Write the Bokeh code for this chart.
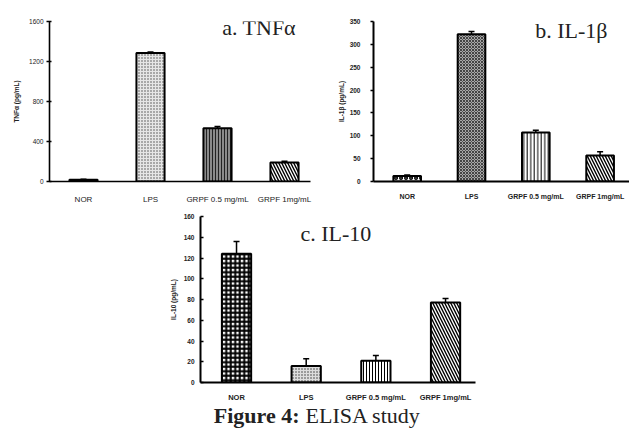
from bokeh.plotting import figure
from bokeh.models import ColumnDataSource, Whisker, TeeHead, FixedTicker, Range1d, Spacer
from bokeh.layouts import column, row
from bokeh.embed import file_html
from bokeh.resources import INLINE
from bokeh.core.properties import value

# ---------------- data ----------------
groups = ["NOR", "LPS", "GRPF 0.5 mg/mL", "GRPF 1mg/mL"]

tnf_mean = [18, 1285, 532, 190]
tnf_err = [4, 10, 18, 12]
tnf_ticks = [0, 400, 800, 1200, 1600]

il1b_mean = [12, 322, 107, 57]
il1b_err = [2, 6, 5, 8]
il1b_ticks = [0, 50, 100, 150, 200, 250, 300, 350]

il10_mean = [124, 16, 21, 77]
il10_err = [12, 7, 5, 4]
il10_ticks = [0, 20, 40, 60, 80, 100, 120, 140, 160]

# ---------------- styles ----------------
style_a = dict(fill=["#222222", "#a8a8a8", "#8a8a8a", "white"],
               hatch=[" ", "+", "|", "\\"],
               hcolor=["#222222", "#e6e6e6", "#222222", "black"],
               hscale=[4, 3, 3, 6], hweight=[1, 1, 1, 1.4])
style_b = dict(fill=["white", "#a8a8a8", "white", "white"],
               hatch=["o", "x", "|", "\\"],
               hcolor=["black", "#444444", "black", "black"],
               hscale=[5, 3, 3.5, 6], hweight=[1.5, 1, 1, 1.4])
style_c = dict(fill=["white", "#9a9a9a", "white", "white"],
               hatch=["+", "+", "|", "\\"],
               hcolor=["black", "#dddddd", "black", "black"],
               hscale=[4.5, 3, 3, 6], hweight=[2.0, 1, 1, 1.4])

FONT = "Liberation Sans"
SERIF = "Liberation Serif"


def panel(means, errs, ticks, ylabel, title, style, w, h, bl, bt, br, bb,
          xstart, xend, barw, tx, ty, xfs, xfw, yfs, yfw, tick_in, tick_out,
          ylab_standoff, tick_standoff, xlab_standoff, axis_w):
    src = ColumnDataSource(dict(
        x=list(range(len(groups))), top=means,
        upper=[m + e for m, e in zip(means, errs)],
        fill=style["fill"], hatch=style["hatch"], hcolor=style["hcolor"],
        hscale=style["hscale"], hweight=style["hweight"]))
    p = figure(width=w, height=h, output_backend="svg", toolbar_location=None,
               x_range=Range1d(xstart, xend), y_range=Range1d(ticks[0], ticks[-1]),
               min_border_left=bl, min_border_top=bt, min_border_right=br, min_border_bottom=bb)
    p.outline_line_color = None
    p.xgrid.grid_line_color = None
    p.ygrid.grid_line_color = None
    p.background_fill_color = "white"
    p.border_fill_color = "white"
    p.vbar(x="x", top="top", bottom=0, width=barw, source=src,
           fill_color="fill", line_color="black", line_width=2,
           hatch_pattern="hatch", hatch_color="hcolor",
           hatch_scale="hscale", hatch_weight="hweight")
    wh = Whisker(source=src, base="x", lower="top", upper="upper",
                 lower_head=None, upper_head=TeeHead(size=6, line_width=1.5, line_color="black"),
                 line_width=1.5, line_color="black", level="overlay")
    p.add_layout(wh)
    p.xaxis.ticker = FixedTicker(ticks=list(range(len(groups))))
    p.xaxis.major_label_overrides = {i: g for i, g in enumerate(groups)}
    p.xaxis.major_tick_line_color = None
    p.xaxis.minor_tick_line_color = None
    p.xaxis.axis_line_width = axis_w
    p.xaxis.major_label_text_font = FONT
    p.xaxis.major_label_text_font_size = xfs
    p.xaxis.major_label_text_font_style = xfw
    p.xaxis.major_label_text_color = "#222222"
    p.xaxis.major_label_standoff = xlab_standoff
    p.yaxis.ticker = FixedTicker(ticks=ticks)
    p.yaxis.minor_tick_line_color = None
    p.yaxis.major_tick_out = tick_out
    p.yaxis.major_tick_in = tick_in
    p.yaxis.major_tick_line_width = 1.5
    p.yaxis.axis_line_width = axis_w
    p.yaxis.major_label_text_font = FONT
    p.yaxis.major_label_text_font_size = yfs
    p.yaxis.major_label_text_font_style = yfw
    p.yaxis.major_label_text_color = "#222222"
    p.yaxis.major_label_standoff = tick_standoff
    p.yaxis.axis_label = ylabel
    p.yaxis.axis_label_text_font = FONT
    p.yaxis.axis_label_text_font_size = "6.5px"
    p.yaxis.axis_label_text_font_style = "bold"
    p.yaxis.axis_label_text_color = "#222222"
    p.yaxis.axis_label_standoff = ylab_standoff
    p.text(x=[tx], y=[ty], text=[title], text_font=value(SERIF),
           text_font_size="22px", text_color="#222222",
           text_baseline="middle", text_align="left")
    return p


# panel a: frame x 49..310, y 21..184
pa = panel(tnf_mean, tnf_err, tnf_ticks, "TNFα (pg/mL)", "a. TNFα", style_a,
           318, 206, 49, 21, 8, 22, -0.5075, 3.388, 0.42, 2.07, 1541,
           "8px", "normal", "6.5px", "normal", 2, 3, 6, 3, 7, 1.6)
# panel b: frame x 373..629, y 15..187
pb = panel(il1b_mean, il1b_err, il1b_ticks, "IL-1β (pg/mL)", "b. IL-1β", style_b,
           311, 206, 55, 15, 0, 19, -0.524, 3.457, 0.43, 1.99, 330,
           "7px", "bold", "6.5px", "bold", 0, 3, 2, 10, 5, 2)
# panel c: frame x 200..475, y 216..391
pc = panel(il10_mean, il10_err, il10_ticks, "IL-10 (pg/mL)", "c. IL-10", style_c,
           320, 198, 40, 10, 5, 13, -0.517, 3.430, 0.42, 0.918, 143.5,
           "7.5px", "bold", "6.5px", "bold", 3, 0, 4, 6, 4, 2)

cap = figure(width=629, height=30, output_backend="svg", toolbar_location=None,
             x_range=Range1d(0, 629), y_range=Range1d(0, 30),
             x_axis_type=None, y_axis_type=None, min_border=0)
cap.outline_line_color = None
cap.xgrid.grid_line_color = None
cap.ygrid.grid_line_color = None
cap.text(x=[299], y=[19], text=["Figure 4:"], text_font=value(SERIF), text_font_style="bold",
         text_font_size="22px", text_color="#222222", text_align="right", text_baseline="middle")
cap.text(x=[305], y=[19], text=["ELISA study"], text_font=value(SERIF),
         text_font_size="22px", text_color="#222222", text_align="left", text_baseline="middle")

layout = column(row(pa, pb), row(Spacer(width=160, height=198), pc), cap)

open("out.html", "w").write(file_html(layout, INLINE))
